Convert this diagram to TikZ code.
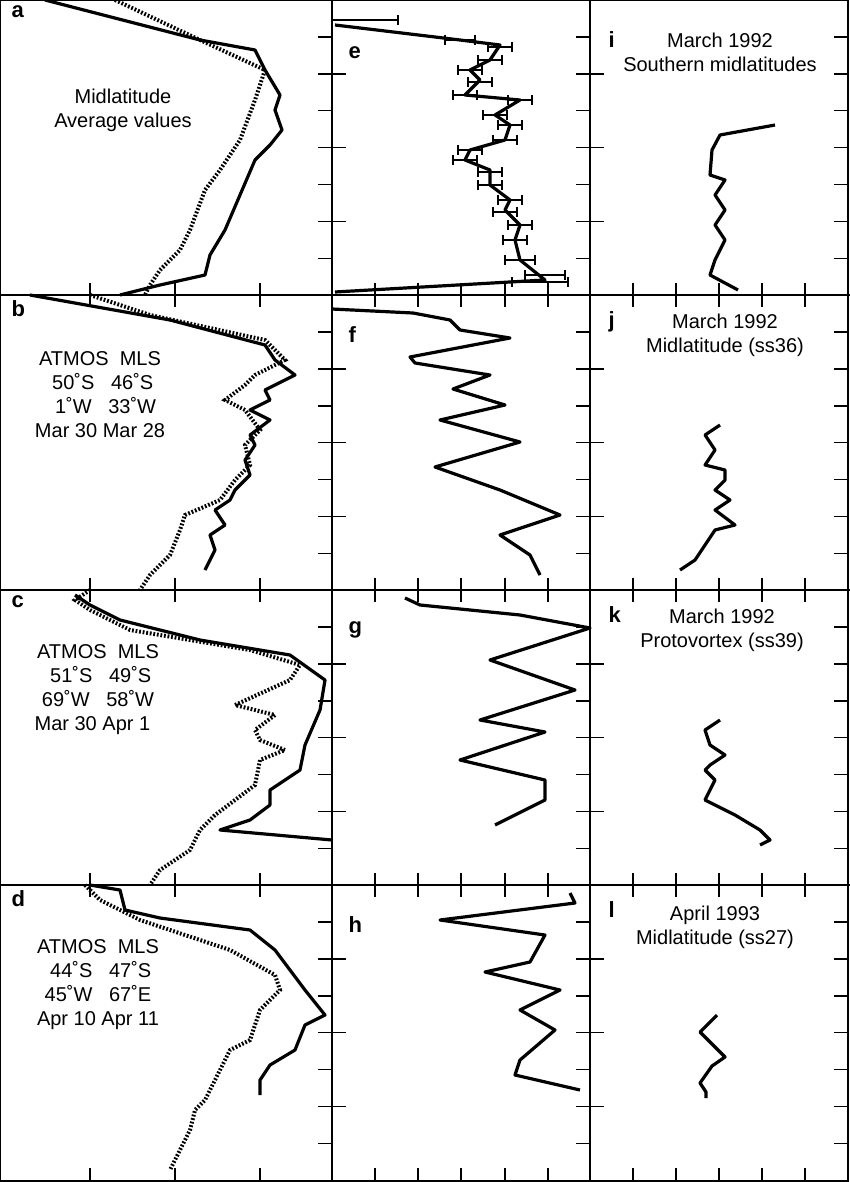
\documentclass[tikz,border=0pt]{standalone}
\usepackage{fontspec}
\setmainfont{Liberation Sans}
\begin{document}
\begin{tikzpicture}[x=1pt,y=-1pt,
  frame/.style={line width=2.2pt},
  tk/.style={line width=1.6pt},
  sol/.style={line width=3.2pt,line join=round},
  dot/.style={line width=4pt,dash pattern=on 1.8pt off 1.8pt},
  lab/.style={font=\bfseries\fontsize{22}{24}\selectfont,anchor=north west},
  txt/.style={font=\fontsize{20}{24}\selectfont,align=center}]
\useasboundingbox (0,0) rectangle (850,1182);
% frames
\draw[frame] (0,0) rectangle (848,1181);
\foreach \x in {332,590} \draw[frame] (\x,0) -- (\x,1182);
\foreach \y in {295,590,885} \draw[frame] (0,\y) -- (850,\y);
% x ticks on row boundaries
\foreach \y in {295,590,885} {
 \foreach \x in {90,175,260} \draw[tk] (\x,\y-12) -- (\x,\y+12);
 \foreach \x in {375,418,461,505,548} \draw[tk] (\x,\y-12) -- (\x,\y+12);
 \foreach \x in {633,676,719,762,805} \draw[tk] (\x,\y-12) -- (\x,\y+12);}
\foreach \x in {90,175,260,375,418,461,505,548,633,676,719,762,805} \draw[tk] (\x,1182) -- (\x,1168);
% y ticks
\foreach \r in {0,295,590,885} {
 \foreach \k in {1,...,7} {
  \draw[tk] (332,\r+\k*36.9) -- (318,\r+\k*36.9);
  \draw[tk] (590,\r+\k*36.9) -- (576,\r+\k*36.9);
  \draw[tk] (848,\r+\k*36.9) -- (834,\r+\k*36.9);}
 \foreach \k in {1,2,3} {
  \draw[tk] (332,\r+\k*73.8) -- (346,\r+\k*73.8);
  \draw[tk] (590,\r+\k*73.8) -- (604,\r+\k*73.8);}}
% labels
\node[lab] (la) at (8,2) {a}; \node[lab] (lb) at (8,297) {b};
\node[lab] (lc) at (8,592) {c}; \node[lab] (ld) at (8,887) {d};
\node[lab] (le) at (345,43) {e}; \node[lab] (lf) at (345,323) {f};
\node[lab] (lg) at (345,618) {g}; \node[lab] (lh) at (345,913) {h};
\node[lab] (li) at (605,28) {i}; \node[lab] (lj) at (605,308) {j};
\node[lab] (lk) at (605,603) {k}; \node[lab] (ll) at (605,898) {l};
\node[txt] (ta) at (123,110) {Midlatitude\\Average values};
\node[txt] (tb) at (100,395) {ATMOS\ \ MLS\\\ 50˚S\ \ \ 46˚S\\\ \ 1˚W\ \ \ 33˚W\\Mar 30 Mar 28};
\node[txt] (tc) at (98,690) {ATMOS\ \ MLS\\\ 51˚S\ \ \ 49˚S\\69˚W\ \ \ 58˚W\\Mar 30 Apr 1\ \ \ };
\node[txt] (td) at (98,985) {ATMOS\ \ MLS\\\ 44˚S\ \ \ 47˚S\\45˚W\ \ \ 67˚E\\Apr 10 Apr 11};
\node[txt] (ti) at (720,52) {March 1992\\Southern midlatitudes};
\node[txt] (tj) at (725,335) {March 1992\\Midlatitude (ss36)};
\node[txt] (tk) at (722,630) {March 1992\\Protovortex (ss39)};
\node[txt] (tl) at (715,927) {April 1993\\Midlatitude (ss27)};
% panel a
\draw[sol] (45,0)--(200,40)--(255,50)--(265,70)--(280,95)--(275,110)--(282,130)--(270,145)--(255,160)--(240,195)--(225,230)--(210,255)--(205,275)--(160,285)--(120,295);
\draw[dot] (115,0)--(200,40)--(265,70)--(255,100)--(240,140)--(220,170)--(205,190)--(190,230)--(180,250)--(160,270)--(150,285)--(145,295);
% panel b
\draw[sol] (30,295)--(170,320)--(265,345)--(275,360)--(295,375)--(265,390)--(270,400)--(250,410)--(270,420)--(250,435)--(255,445)--(245,460)--(250,475)--(235,490)--(230,500)--(215,510)--(225,525)--(210,535)--(215,550)--(205,570);
\draw[dot] (90,295)--(150,315)--(265,340)--(285,360)--(255,375)--(245,385)--(225,400)--(245,410)--(260,430)--(245,445)--(250,465)--(235,480)--(220,500)--(185,515)--(180,530)--(170,555)--(150,575)--(140,590);
% panel c
\draw[sol] (75,595)--(90,605)--(120,620)--(200,640)--(290,655)--(325,680)--(320,710)--(305,745)--(300,770)--(270,790)--(270,805)--(250,820)--(235,825)--(220,830)--(332,840);
\draw[dot] (90,590)--(75,600)--(90,610)--(130,630)--(250,650)--(300,665)--(290,680)--(235,705)--(275,715)--(255,730)--(260,740)--(285,750)--(260,760)--(255,785)--(235,800)--(215,815)--(200,830)--(190,850)--(160,870)--(150,885);
% panel d
\draw[sol] (90,885)--(120,890)--(125,910)--(160,918)--(250,930)--(275,950)--(305,990)--(325,1015)--(305,1025)--(295,1050)--(270,1065)--(260,1080)--(260,1095);
\draw[dot] (85,885)--(100,900)--(140,920)--(230,950)--(275,975)--(280,990)--(260,1010)--(250,1040)--(230,1050)--(220,1070)--(210,1090)--(205,1100)--(195,1110)--(190,1130)--(180,1150)--(170,1170);
% panel e
\draw[sol] (335,25)--(460,40)--(500,45)--(490,60)--(470,70)--(480,80)--(465,95)--(520,100)--(495,115)--(510,125)--(505,140)--(470,150)--(465,160)--(490,170)--(490,185)--(510,200)--(505,210)--(520,225)--(515,240)--(520,260)--(545,280)--(335,292);
\foreach \px/\py/\w in {365/20/33,460/40/15,500/47/12,490/60/12,470/70/12,480/82/12,465/95/12,520/100/12,495/115/12,510/125/12,505/140/12,470/150/12,465/160/12,490/172/12,490/185/12,510/200/12,505/212/12,520/225/12,515/240/12,520/260/15,545/275/20,540/282/28}
  \draw[line width=1.4pt] (\px-\w,\py)--(\px+\w,\py) (\px-\w,\py-5)--(\px-\w,\py+5) (\px+\w,\py-5)--(\px+\w,\py+5);
% panel f
\draw[sol] (332,309)--(413,313)--(450,320)--(460,330)--(510,338)--(410,357)--(415,363)--(490,375)--(453,389)--(505,405)--(440,420)--(520,442)--(435,467)--(500,490)--(560,515)--(500,535)--(530,555)--(540,575);
% panel g
\draw[sol] (405,598)--(420,605)--(520,615)--(590,628)--(490,660)--(575,690)--(480,720)--(545,732)--(460,760)--(545,780)--(545,800)--(495,825);
% panel h
\draw[sol] (570,893)--(575,903)--(440,920)--(545,935)--(530,962)--(485,972)--(560,990)--(520,1010)--(555,1030)--(520,1060)--(515,1075)--(580,1090);
% panel i
\draw[sol] (775,125)--(720,135)--(712,150)--(710,175)--(725,180)--(715,195)--(725,210)--(715,225)--(725,240)--(715,260)--(710,275)--(738,290);
% panel j
\draw[sol] (720,425)--(705,435)--(715,450)--(705,465)--(725,470)--(725,480)--(715,490)--(730,500)--(715,510)--(735,525)--(715,530)--(705,545)--(695,560)--(680,570);
% panel k
\draw[sol] (720,720)--(705,730)--(710,745)--(725,755)--(710,765)--(705,770)--(715,780)--(705,800)--(735,815)--(760,830)--(770,840)--(760,845);
% panel l
\draw[sol] (717,1015)--(700,1032)--(725,1057)--(712,1066)--(700,1083)--(706,1092)--(706,1098);
\end{tikzpicture}
\end{document}
